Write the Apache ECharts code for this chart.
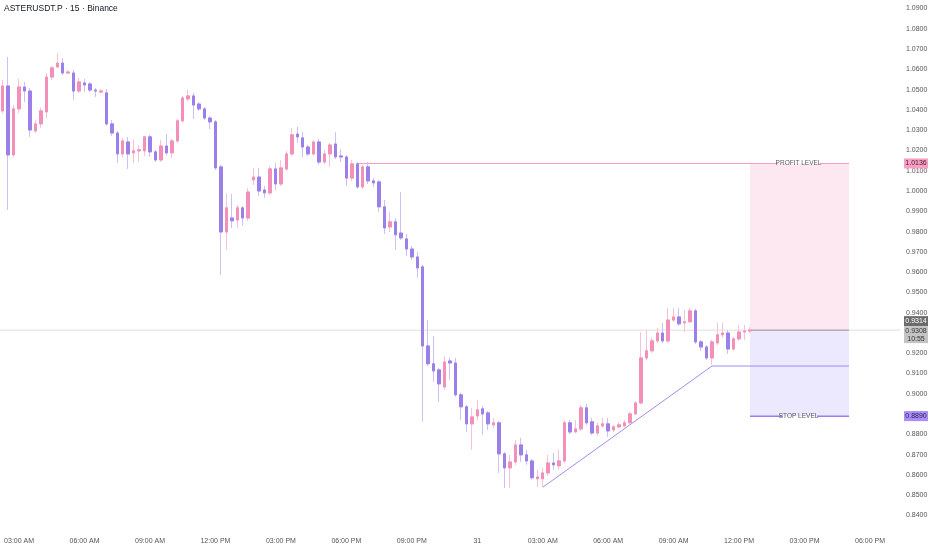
<!DOCTYPE html>
<html><head><meta charset="utf-8">
<script src="https://cdn.jsdelivr.net/npm/echarts@6/dist/echarts.min.js"></script>
<style>html,body{margin:0;padding:0;background:#fff}#c{width:932px;height:550px}</style>
</head><body><div id="c"></div>
<script>
const opens = [1.0395,1.0518,1.0178,1.0405,1.0513,1.0493,1.0296,1.0331,1.0390,1.0562,1.0612,1.0631,1.0582,1.0582,1.0493,1.0533,1.0528,1.0498,1.0488,1.0484,
1.0331,1.0286,1.0183,1.0242,1.0188,1.0198,1.0198,1.0267,1.0193,1.0153,1.0222,1.0188,1.0247,1.0346,1.0454,1.0469,1.0429,1.0405,1.0360,1.0341,
1.0119,0.9798,0.9867,0.9857,0.9917,0.9867,1.0055,1.0069,1.0005,0.9991,1.0109,1.0035,1.0109,1.0183,1.0281,1.0262,1.0217,1.0183,1.0242,1.0143,
1.0183,1.0232,1.0173,1.0168,1.0064,1.0134,1.0020,1.0119,1.0050,1.0045,0.9922,0.9823,0.9848,0.9793,0.9764,0.9714,0.9675,0.9626,0.9236,0.9148,
0.9118,0.9034,0.9162,0.9152,0.8995,0.8936,0.8852,0.8891,0.8926,0.8906,0.8847,0.8857,0.8704,0.8635,0.8664,0.8748,0.8699,0.8669,0.8581,0.8581,
0.8610,0.8659,0.8645,0.8669,0.8857,0.8812,0.8827,0.8931,0.8862,0.8807,0.8842,0.8852,0.8822,0.8837,0.8842,0.8857,0.8901,0.8955,0.9177,0.9212,
0.9261,0.9300,0.9261,0.9364,0.9379,0.9350,0.9355,0.9409,0.9256,0.9231,0.9177,0.9251,0.9291,0.9300,0.9221,0.9271,0.9305,0.9310];
const closes = [1.0518,1.0178,1.0405,1.0513,1.0493,1.0301,1.0331,1.0395,1.0562,1.0607,1.0631,1.0582,1.0587,1.0493,1.0538,1.0523,1.0498,1.0493,1.0493,1.0331,
1.0286,1.0183,1.0247,1.0183,1.0198,1.0203,1.0267,1.0193,1.0153,1.0222,1.0188,1.0247,1.0346,1.0459,1.0469,1.0424,1.0405,1.0360,1.0341,1.0114,
0.9798,0.9917,0.9853,0.9917,0.9867,0.9995,1.0069,1.0000,0.9991,1.0109,1.0035,1.0114,1.0183,1.0277,1.0267,1.0217,1.0183,1.0242,1.0143,1.0183,
1.0227,1.0168,1.0168,1.0064,1.0134,1.0020,1.0119,1.0050,1.0040,0.9922,0.9818,0.9848,0.9784,0.9769,0.9714,0.9675,0.9621,0.9236,0.9148,0.9113,
0.9049,0.9157,0.9152,0.8995,0.8936,0.8852,0.8886,0.8921,0.8901,0.8852,0.8857,0.8704,0.8635,0.8664,0.8748,0.8699,0.8669,0.8586,0.8590,0.8610,
0.8659,0.8650,0.8669,0.8857,0.8812,0.8827,0.8931,0.8857,0.8807,0.8842,0.8852,0.8817,0.8837,0.8847,0.8857,0.8901,0.8955,0.9177,0.9212,0.9261,
0.9300,0.9261,0.9364,0.9379,0.9345,0.9355,0.9409,0.9256,0.9231,0.9177,0.9256,0.9291,0.9300,0.9221,0.9271,0.9305,0.9310,0.9314];
const lows = [1.0385,0.9907,1.0168,1.0385,1.0439,1.0267,1.0286,1.0311,1.0360,1.0548,1.0607,1.0572,1.0577,1.0449,1.0484,1.0488,1.0488,1.0464,1.0484,1.0321,
1.0272,1.0138,1.0168,1.0109,1.0138,1.0143,1.0173,1.0168,1.0143,1.0143,1.0178,1.0163,1.0237,1.0336,1.0444,1.0355,1.0395,1.0350,1.0306,1.0104,
0.9586,0.9710,0.9818,0.9818,0.9828,0.9853,1.0030,0.9976,0.9966,0.9981,1.0005,1.0025,1.0099,1.0173,1.0237,1.0168,1.0173,1.0173,1.0129,1.0134,
1.0119,1.0158,1.0143,1.0025,1.0050,1.0010,1.0010,1.0035,1.0020,0.9897,0.9788,0.9798,0.9710,0.9759,0.9680,0.9660,0.9572,0.8862,0.9138,0.9059,
0.8960,0.9019,0.9069,0.8985,0.8871,0.8812,0.8724,0.8871,0.8798,0.8822,0.8832,0.8610,0.8536,0.8536,0.8650,0.8664,0.8650,0.8576,0.8541,0.8541,
0.8595,0.8625,0.8625,0.8659,0.8802,0.8807,0.8817,0.8847,0.8798,0.8793,0.8832,0.8788,0.8812,0.8832,0.8837,0.8852,0.8896,0.8950,0.9167,0.9202,
0.9251,0.9251,0.9251,0.9355,0.9335,0.9305,0.9350,0.9246,0.9212,0.9167,0.9143,0.9241,0.9276,0.9197,0.9212,0.9261,0.9266,0.9300];
const highs = [1.0548,1.0661,1.0424,1.0553,1.0538,1.0508,1.0350,1.0410,1.0582,1.0617,1.0681,1.0656,1.0597,1.0597,1.0558,1.0553,1.0538,1.0508,1.0503,1.0503,
1.0350,1.0296,1.0262,1.0267,1.0252,1.0227,1.0272,1.0277,1.0203,1.0252,1.0281,1.0257,1.0355,1.0469,1.0498,1.0484,1.0439,1.0415,1.0370,1.0350,
1.0129,0.9986,0.9986,0.9931,0.9926,1.0015,1.0114,1.0114,1.0025,1.0124,1.0138,1.0153,1.0198,1.0311,1.0316,1.0291,1.0227,1.0252,1.0257,1.0203,
1.0237,1.0291,1.0207,1.0178,1.0153,1.0143,1.0129,1.0143,1.0064,1.0055,0.9956,0.9897,0.9867,0.9995,0.9788,0.9729,0.9700,0.9636,0.9364,0.9286,
0.9128,0.9187,0.9177,0.9177,0.9005,0.8945,0.8931,0.8970,0.8940,0.8916,0.8881,0.8867,0.8714,0.8699,0.8773,0.8783,0.8724,0.8679,0.8625,0.8635,
0.8699,0.8709,0.8724,0.8871,0.8871,0.8871,0.8945,0.8950,0.8881,0.8857,0.8881,0.8881,0.8847,0.8862,0.8871,0.8911,0.8965,0.9305,0.9315,0.9276,
0.9325,0.9350,0.9424,0.9424,0.9424,0.9414,0.9424,0.9419,0.9266,0.9241,0.9266,0.9350,0.9350,0.9315,0.9281,0.9340,0.9340,0.9330];

const tickLabels = ['03:00 AM','06:00 AM','09:00 AM','12:00 PM','03:00 PM','06:00 PM','09:00 PM','31','03:00 AM','06:00 AM','09:00 AM','12:00 PM','03:00 PM','06:00 PM'];
const tickSlots = [3,15,27,39,51,63,75,87,99,111,123,135,147,159];
const slotCount = 165;

// position tool / drawing levels (bar index, price)
const profitLevel = 1.0136;
const entryLevel = 0.9314;
const stopLevel = 0.8890;
const toolStart = 137.0, toolEnd = 155.15;
const profitLineStart = 64.95;
const profitGap = [142.1, 149.83];
const stopGap = [142.87, 149.28];
const labelCenter = 145.9;
const trendLine = [[99.05, 0.8540], [130.03, 0.9137], [155.15, 0.9137]];

const categories = [];
for (let i = 0; i < slotCount; i++) categories.push('s' + i);
const slotLabel = {};
tickSlots.forEach((s, i) => slotLabel['s' + s] = tickLabels[i]);

const fullData = opens.map((o, i) => [o, closes[i], lows[i], highs[i]]);
const bodyData = opens.map((o, i) => [o, closes[i], Math.min(o, closes[i]), Math.max(o, closes[i])]);

const font = '"Liberation Sans", Arial, sans-serif';

function seg(points, color, width, z) {
  return {type: 'line', xAxisIndex: 1, yAxisIndex: 0, z: z || 2, silent: true, symbol: 'none',
    data: points, lineStyle: {color: color, width: width}, emphasis: {disabled: true}};
}

const chart = echarts.init(document.getElementById('c'), null, {renderer: 'canvas'});
const option = {
  animation: false,
  backgroundColor: '#ffffff',
  title: {text: 'ASTERUSDT.P · 15 · Binance', left: 4, top: 4, padding: 0,
    textStyle: {fontSize: 8.5, fontWeight: 'normal', color: '#131722', fontFamily: font}},
  grid: {left: 0, right: 32, top: 8.5, bottom: 34.5, containLabel: false},
  xAxis: [{
    type: 'category', data: categories, boundaryGap: true,
    axisLine: {show: false}, axisTick: {show: false}, splitLine: {show: false},
    axisLabel: {interval: (idx, v) => slotLabel[v] !== undefined, formatter: v => slotLabel[v] || '',
      color: '#555', fontSize: 7, fontFamily: font, margin: 22, hideOverlap: false}
  }, {
    type: 'value', min: -0.5, max: slotCount - 0.5, show: false
  }],
  yAxis: [{
    type: 'value', position: 'right', min: 0.84, max: 1.09, interval: 0.01,
    axisLine: {show: false}, axisTick: {show: false}, splitLine: {show: false},
    axisLabel: {formatter: v => v.toFixed(4), color: '#555', fontSize: 7, fontFamily: font, margin: 6}
  }],
  series: [
    {
      type: 'line', xAxisIndex: 1, yAxisIndex: 0, z: 1, silent: true,
      data: trendLine, symbol: 'none', lineStyle: {color: '#a28bf0', width: 1},
      markArea: {silent: true, data: [
        [{coord: [toolStart, profitLevel], itemStyle: {color: 'rgba(245,130,180,0.18)'}}, {coord: [toolEnd, entryLevel]}],
        [{coord: [toolStart, entryLevel], itemStyle: {color: 'rgba(130,100,240,0.15)'}}, {coord: [toolEnd, stopLevel]}]
      ]}
    },
    seg([[-0.5, entryLevel], [toolStart, entryLevel]], '#dedede', 1),
    seg([[toolStart, entryLevel], [toolEnd, entryLevel]], '#8e8e8e', 1),
    seg([[toolEnd, entryLevel], [slotCount - 0.5, entryLevel]], '#dedede', 1),
    seg([[profitLineStart, profitLevel], [profitGap[0], profitLevel]], '#f29cbf', 1),
    seg([[profitGap[1], profitLevel], [toolEnd, profitLevel]], '#f29cbf', 1),
    seg([[toolStart, stopLevel], [stopGap[0], stopLevel]], '#9a7cf0', 1.5),
    seg([[stopGap[1], stopLevel], [toolEnd, stopLevel]], '#9a7cf0', 1.5),
    {
      type: 'scatter', xAxisIndex: 1, yAxisIndex: 0, z: 4, silent: true, symbolSize: 0,
      data: [[labelCenter, profitLevel, 'PROFIT LEVEL'], [labelCenter, stopLevel, 'STOP LEVEL']],
      label: {show: true, position: 'inside', formatter: p => p.data[2], color: '#333', fontSize: 6.5, fontFamily: font}
    },
    {
      type: 'candlestick', xAxisIndex: 0, yAxisIndex: 0, z: 3, silent: true, barWidth: 3,
      data: fullData,
      itemStyle: {color: '#f6c2d7', color0: '#cdc0f6', borderColor: '#f6c2d7', borderColor0: '#cdc0f6', borderWidth: 1}
    },
    {
      type: 'candlestick', xAxisIndex: 0, yAxisIndex: 0, z: 3, silent: true, barWidth: 3,
      data: bodyData,
      itemStyle: {color: '#f38fb8', color0: '#9c80ea', borderColor: '#f38fb8', borderColor0: '#9c80ea', borderWidth: 1}
    }
  ]
};
chart.setOption(option);

const yPx = v => chart.convertToPixel({yAxisIndex: 0}, v);
const tagX = 904, tagW = 24;
function rect(y, h, fill) {
  return {type: 'rect', shape: {x: tagX, y: y, width: tagW, height: h}, style: {fill: fill}, z: 10};
}
function txt(y, text, color) {
  return {type: 'text', x: tagX + tagW / 2, y: y, z: 11,
    style: {text: text, fill: color, font: '7px ' + font, textAlign: 'center', textVerticalAlign: 'middle', align: 'center', verticalAlign: 'middle'}};
}
const yp = yPx(profitLevel), ye = yPx(entryLevel), ys = yPx(stopLevel);
chart.setOption({graphic: {elements: [
  rect(yp - 5, 10, '#f7a0c3'), txt(yp, profitLevel.toFixed(4), '#4a1a30'),
  rect(ye - 14, 10, '#6b6b6b'), txt(ye - 9, entryLevel.toFixed(4), '#ffffff'),
  rect(ye - 4, 17, '#c4c4c4'), txt(ye + 0.5, '0.9308', '#333333'), txt(ye + 8.5, '10:55', '#333333'),
  rect(ys - 5, 10, '#a98ff5'), txt(ys, stopLevel.toFixed(4), '#2a1a5a')
]}});
</script>
</body></html>
